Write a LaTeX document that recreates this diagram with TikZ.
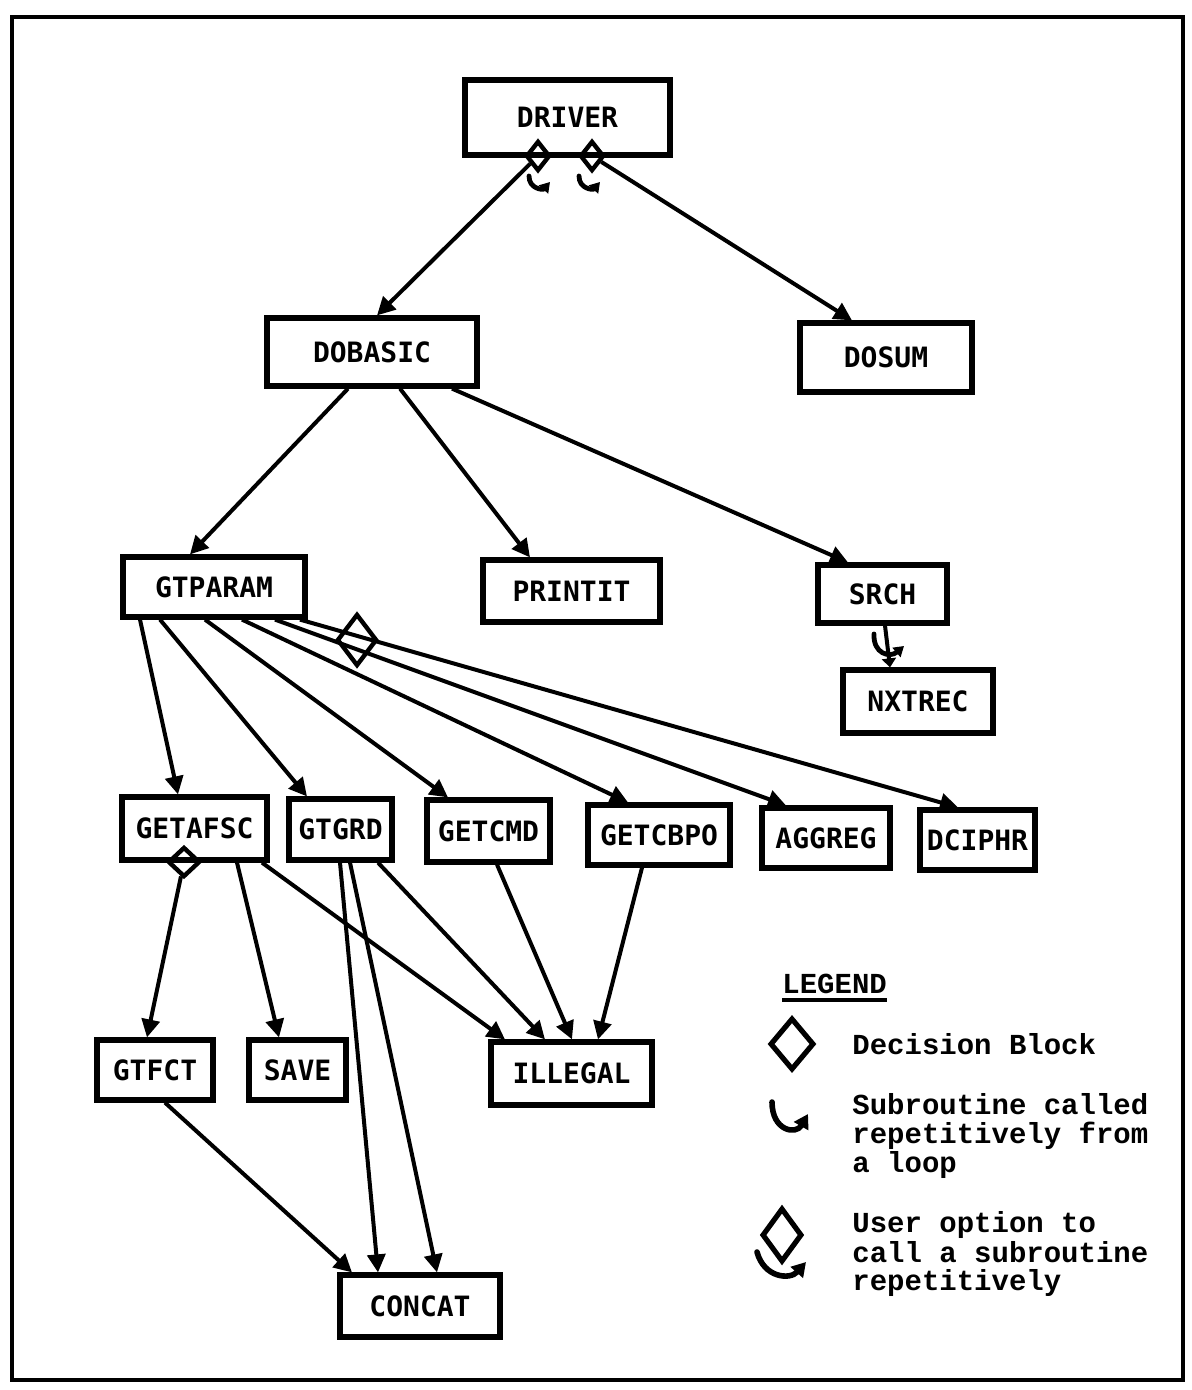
\documentclass[tikz,border=0pt]{standalone}
\usepackage{fontspec}
\usetikzlibrary{arrows.meta,shapes.geometric}
\newfontfamily\labelfont{DejaVu Sans Mono}
\newfontfamily\legendfont{Liberation Mono}
\begin{document}
\begin{tikzpicture}[x=0.5pt,y=-0.5pt,
  box/.style={draw,line width=2.6pt,inner sep=0pt,
    font=\labelfont\bfseries\fontsize{14}{16}\selectfont},
  link/.style={line width=2pt},
  arr/.style={link,-{Triangle[length=9pt,width=9pt]}},
  choice/.style={draw,diamond,line width=2.2pt,inner sep=0pt},
  smallhook/.style={line width=2.4pt,line cap=round,-{Triangle[length=5pt,width=6pt]}},
  bighook/.style={line width=2.8pt,line cap=round,-{Triangle[length=7pt,width=8pt]}},
  legtext/.style={anchor=base west,inner sep=0pt,
    font=\legendfont\bfseries\fontsize{14.5}{16}\selectfont}]
\useasboundingbox (0,0) rectangle (1191,1390);
% outer frame
\draw[line width=2.4pt] (12,17) rectangle (1183,1380);

% modules
\node[box,minimum width=102.5pt,minimum height=37.5pt] (driver)  at (567.5,117.5) {DRIVER};
\node[box,minimum width=105pt,minimum height=34pt]     (dobasic) at (372,352)     {DOBASIC};
\node[box,minimum width=86pt,minimum height=34.5pt]    (dosum)   at (886,357.5)   {DOSUM};
\node[box,minimum width=91pt,minimum height=30pt]      (gtparam) at (214,587)     {GTPARAM};
\node[box,minimum width=88.5pt,minimum height=31pt]    (printit) at (571.5,591)   {PRINTIT};
\node[box,minimum width=64.5pt,minimum height=29pt]    (srch)    at (882.5,594)   {SRCH};
\node[box,minimum width=75pt,minimum height=31.5pt]    (nxtrec)  at (918,701.5)   {NXTREC};
\node[box,minimum width=72.5pt,minimum height=31.5pt]  (getafsc) at (194.5,828.5) {GETAFSC};
\node[box,minimum width=51.5pt,minimum height=30.5pt]  (gtgrd)   at (340.5,829.5) {GTGRD};
\node[box,minimum width=61.5pt,minimum height=31pt]    (getcmd)  at (488.5,831)   {GETCMD};
\node[box,minimum width=71pt,minimum height=30pt]      (getcbpo) at (659,835)     {GETCBPO};
\node[box,minimum width=64pt,minimum height=30pt]      (aggreg)  at (826,838)     {AGGREG};
\node[box,minimum width=57.5pt,minimum height=30pt]    (dciphr)  at (977.5,840)   {DCIPHR};
\node[box,minimum width=58pt,minimum height=30pt]      (gtfct)   at (155,1070)    {GTFCT};
\node[box,minimum width=48.5pt,minimum height=30pt]    (save)    at (297.5,1070)  {SAVE};
\node[box,minimum width=80.5pt,minimum height=31.5pt]  (illegal) at (571.5,1073.5){ILLEGAL};
\node[box,minimum width=80pt,minimum height=31pt]      (concat)  at (420,1306)    {CONCAT};

% decision blocks
\node[choice,minimum width=12pt,minimum height=15pt] (opt1) at (538,156) {};
\node[choice,minimum width=12pt,minimum height=15pt] (opt2) at (592,156) {};
\node[choice,minimum width=20pt,minimum height=26pt] (opt3) at (357,640) {};
\node[choice,minimum width=16pt,minimum height=15pt] (opt4) at (184,862) {};

% calls from DRIVER and DOBASIC
\draw[arr] (opt1) -- (dobasic.north -| 377,0);
\draw[arr] (opt2) -- (dosum.north -| 852,0);
\draw[arr] (dobasic.south -| 348,0) -- (gtparam.north -| 190,0);
\draw[arr] (dobasic.south -| 400,0) -- (printit.north -| 530,0);
\draw[arr] (dobasic.south -| 452,0) -- (srch.north -| 848,0);
\draw[link,-{Triangle[length=4.5pt,width=7pt]}] (srch.south -| 885,0) -- (nxtrec.north -| 890,0);

% calls from GTPARAM
\draw[arr] (gtparam.south -| 140,0) -- (getafsc.north -| 178,0);
\draw[arr] (gtparam.south -| 160,0) -- (gtgrd.north -| 307,0);
\draw[arr] (gtparam.south -| 205,0) -- (getcmd.north -| 448,0);
\draw[arr] (gtparam.south -| 242,0) -- (getcbpo.north -| 628,0);
\draw[arr] (gtparam.south -| 275,0) -- (aggreg.north -| 786,0);
\draw[arr] (gtparam.south -| 300,0) -- (dciphr.north -| 958,0);

% calls from the third row
\draw[arr] (opt4) -- (gtfct.north -| 147,0);
\draw[arr] (getafsc.south -| 237,0) -- (save.north -| 279,0);
\draw[arr] (getafsc.south -| 262,0) -- (illegal.north -| 505,0);
\draw[arr] (gtgrd.south -| 340,0) -- (concat.north -| 378,0);
\draw[arr] (gtgrd.south -| 350,0) -- (concat.north -| 437,0);
\draw[arr] (gtgrd.south -| 378,0) -- (illegal.north -| 545,0);
\draw[arr] (getcmd.south -| 497,0) -- (illegal.north -| 572,0);
\draw[arr] (getcbpo.south -| 642,0) -- (illegal.north -| 598,0);
\draw[arr] (gtfct.south -| 165,0) -- (concat.north -| 352,0);

% repetition marks
\draw[smallhook,shift={(539,181)}] (-10,-5) .. controls (-10,8) and (4,9) .. (11,1);
\draw[smallhook,shift={(589,181)}] (-10,-5) .. controls (-10,8) and (4,9) .. (11,1);
\draw[smallhook,shift={(888,644)}] (-14,-10) .. controls (-15,10) and (2,14) .. (16,2);

% legend
\node[legtext] (lgtitle) at (782,993) {LEGEND};
\draw[line width=1.6pt] ([yshift=-3.5pt]lgtitle.base west) -- ([yshift=-3.5pt]lgtitle.base east);
\node[choice,line width=2.6pt,minimum width=22pt,minimum height=26pt] (lgdiam) at (792,1044) {};
\node[legtext] (lga) at (852,1054) {Decision Block};
\draw[bighook,shift={(790,1117)}] (-18,-15) .. controls (-18,14) and (6,18) .. (18,-3);
\node[legtext] (lgb1) at (852,1114) {Subroutine called};
\node[legtext] (lgb2) at (852,1143) {repetitively from};
\node[legtext] (lgb3) at (852,1172) {a loop};
\node[choice,line width=2.6pt,minimum width=20pt,minimum height=27pt] (lgopt) at (782,1235) {};
\draw[bighook,shift={(782,1262)}] (-25,-10) .. controls (-18,16) and (8,18) .. (24,0);
\node[legtext] (lgc1) at (852,1232) {User option to};
\node[legtext] (lgc2) at (852,1262) {call a subroutine};
\node[legtext] (lgc3) at (852,1290) {repetitively};
\end{tikzpicture}
\end{document}
